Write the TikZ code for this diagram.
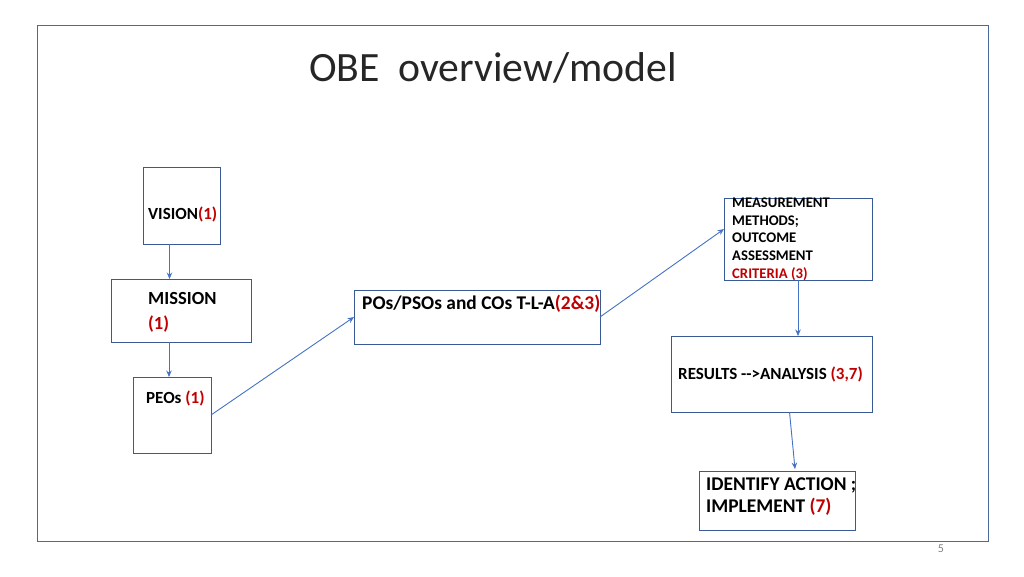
\documentclass[tikz,border=0pt]{standalone}
\usepackage{fontspec}
\setmainfont{Carlito}
\usetikzlibrary{arrows.meta}
\definecolor{boxc}{HTML}{3A5A96}
\definecolor{linec}{HTML}{4472C4}
\definecolor{framec}{HTML}{4A6A9A}
\definecolor{redc}{HTML}{C00000}
\definecolor{titlec}{HTML}{262626}
\begin{document}
\begin{tikzpicture}[x=1pt,y=-1pt,
  box/.style={draw=boxc, line width=1pt, inner sep=0pt, outer sep=0pt, anchor=north west},
  lbl/.style={font=\bfseries\fontsize{17}{24}\selectfont, anchor=west, inner sep=0pt, align=left},
  conn/.style={draw=linec, line width=0.9pt, -{Stealth[length=6.5pt,width=5.5pt]}}]
\useasboundingbox (0,0) rectangle (1024,576);
\node[draw=framec, line width=1.2pt, minimum width=951pt, minimum height=516pt, anchor=north west, inner sep=0pt] (frame) at (37,25) {};
\node[text=titlec, inner sep=0pt] (title) at (493,68) {\fontsize{41.7}{46}\selectfont OBE\ \ overview/model};
% boxes
\node[box, minimum width=77pt, minimum height=77pt] (vision) at (143,167) {};
\node[box, minimum width=140pt, minimum height=63pt] (mission) at (111,279) {};
\node[box, minimum width=78pt, minimum height=76pt] (peos) at (133,377) {};
\node[box, minimum width=246pt, minimum height=54pt] (pos) at (354,290) {};
\node[box, minimum width=148pt, minimum height=82pt] (meas) at (724,198) {};
\node[box, minimum width=201pt, minimum height=76pt] (results) at (671,336) {};
\node[box, minimum width=156pt, minimum height=59pt] (identify) at (699,471) {};
% labels
\node[lbl] (visiont) at (148,214) {VISION\textcolor{redc}{(1)}};
\node[lbl, font=\bfseries\fontsize{18.5}{25}\selectfont] (missiont) at (148,312.5) {MISSION\\\textcolor{redc}{(1)}};
\node[lbl] (peost) at (146,398) {PEOs \textcolor{redc}{(1)}};
\node[lbl, font=\bfseries\fontsize{19.4}{23}\selectfont] (post) at (362,304) {POs/PSOs and COs T-L-A\textcolor{redc}{(2\&3)}};
\node[lbl, font=\bfseries\fontsize{14.7}{17.7}\selectfont] (meast) at (732,239) {MEASUREMENT\\METHODS;\\OUTCOME\\ASSESSMENT\\\textcolor{redc}{CRITERIA (3)}};
\node[lbl] (resultst) at (678,374) {RESULTS -{}->ANALYSIS \textcolor{redc}{(3,7)}};
\node[lbl, font=\bfseries\fontsize{19.4}{22}\selectfont] (identifyt) at (706,496.5) {IDENTIFY ACTION ;\\IMPLEMENT \textcolor{redc}{(7)}};
\node[text=gray, inner sep=0pt] (pnum) at (941,549) {\fontsize{12}{14}\selectfont 5};
% connectors
\draw[conn] ([xshift=-12pt]vision.south) -- ([xshift=-12pt]vision.south |- mission.north);
\draw[conn] ([xshift=-12pt]mission.south) -- ([xshift=-12pt]mission.south |- peos.north);
\draw[conn] (peos.east) -- (pos.west);
\draw[conn] (pos.east) -- ([yshift=10pt]meas.west);
\draw[conn] (meas.south) -- (meas.south |- results.north);
\draw[conn] ([xshift=18pt]results.south) -- ([xshift=18pt,yshift=2pt]identify.north);
\end{tikzpicture}
\end{document}
